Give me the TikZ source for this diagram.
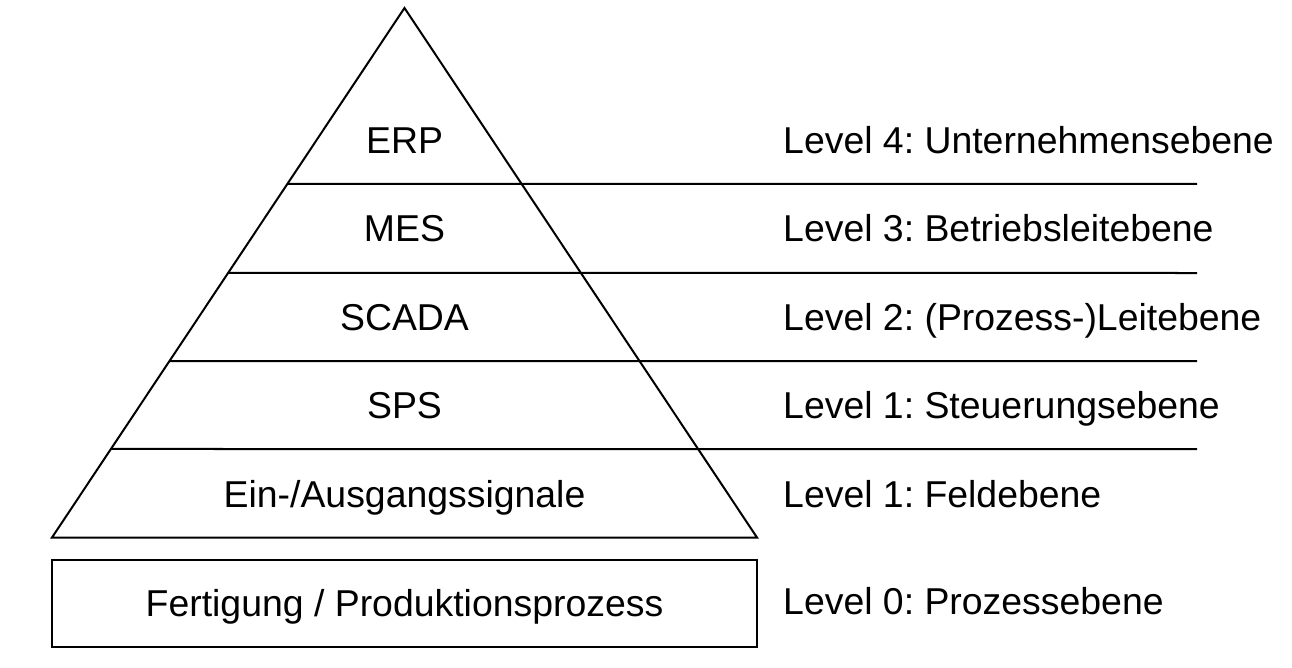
\documentclass[tikz,border=0pt]{standalone}
\usepackage{fontspec}
\setmainfont{Liberation Sans}
\usetikzlibrary{calc}
\begin{document}
\frenchspacing
\begin{tikzpicture}[x=1pt,y=-1pt,
  every node/.style={font=\fontsize{37.4}{45}\selectfont, inner sep=0pt},
  shape line/.style={line width=2pt, line join=miter},
  lbl/.style={anchor=base},
  lvl/.style={anchor=base west}]
\useasboundingbox (0,0) rectangle (1292,668);
% pyramid
\coordinate (apex) at (404.5,8);
\coordinate (bl) at (52,537.5);
\coordinate (br) at (757,537.5);
\draw[shape line] (apex) -- (bl) -- (br) -- cycle;
% separator lines
\foreach \y/\n in {184/a,273/b,361/c,449/d}{
  \coordinate (s\n) at ($(bl)!{(537.5-\y)/529.5}!(apex)$);
  \coordinate (e\n) at (1197,\y);
  \draw[shape line] (s\n) -- (e\n);
}
% bottom box
\coordinate (boxtl) at (51.5,559.5);
\coordinate (boxbr) at (757,647);
\draw[shape line] (boxtl) rectangle (boxbr);
\node[lbl] (fert) at (404.5,616) {Fertigung / Produktionsprozess};
% pyramid labels
\node[lbl] (erp) at (404.5,154) {ERP};
\node[lbl] (mes) at (404.5,242) {MES};
\node[lbl] (scada) at (404.5,330) {SCADA};
\node[lbl] (sps) at (404.5,418) {SPS};
\node[lbl] (eio) at (404.5,507) {Ein-/Ausgangssignale};
% level labels
\node[lvl] (l4) at (783,154) {Level 4: Unternehmensebene};
\node[lvl] (l3) at (783,242) {Level 3: Betriebsleitebene};
\node[lvl] (l2) at (783,330) {Level 2: (Prozess-)Leitebene};
\node[lvl] (l1) at (783,418) {Level 1: Steuerungsebene};
\node[lvl] (l1f) at (783,507) {Level 1: Feldebene};
\node[lvl] (l0) at (783,614) {Level 0: Prozessebene};
\end{tikzpicture}
\end{document}
